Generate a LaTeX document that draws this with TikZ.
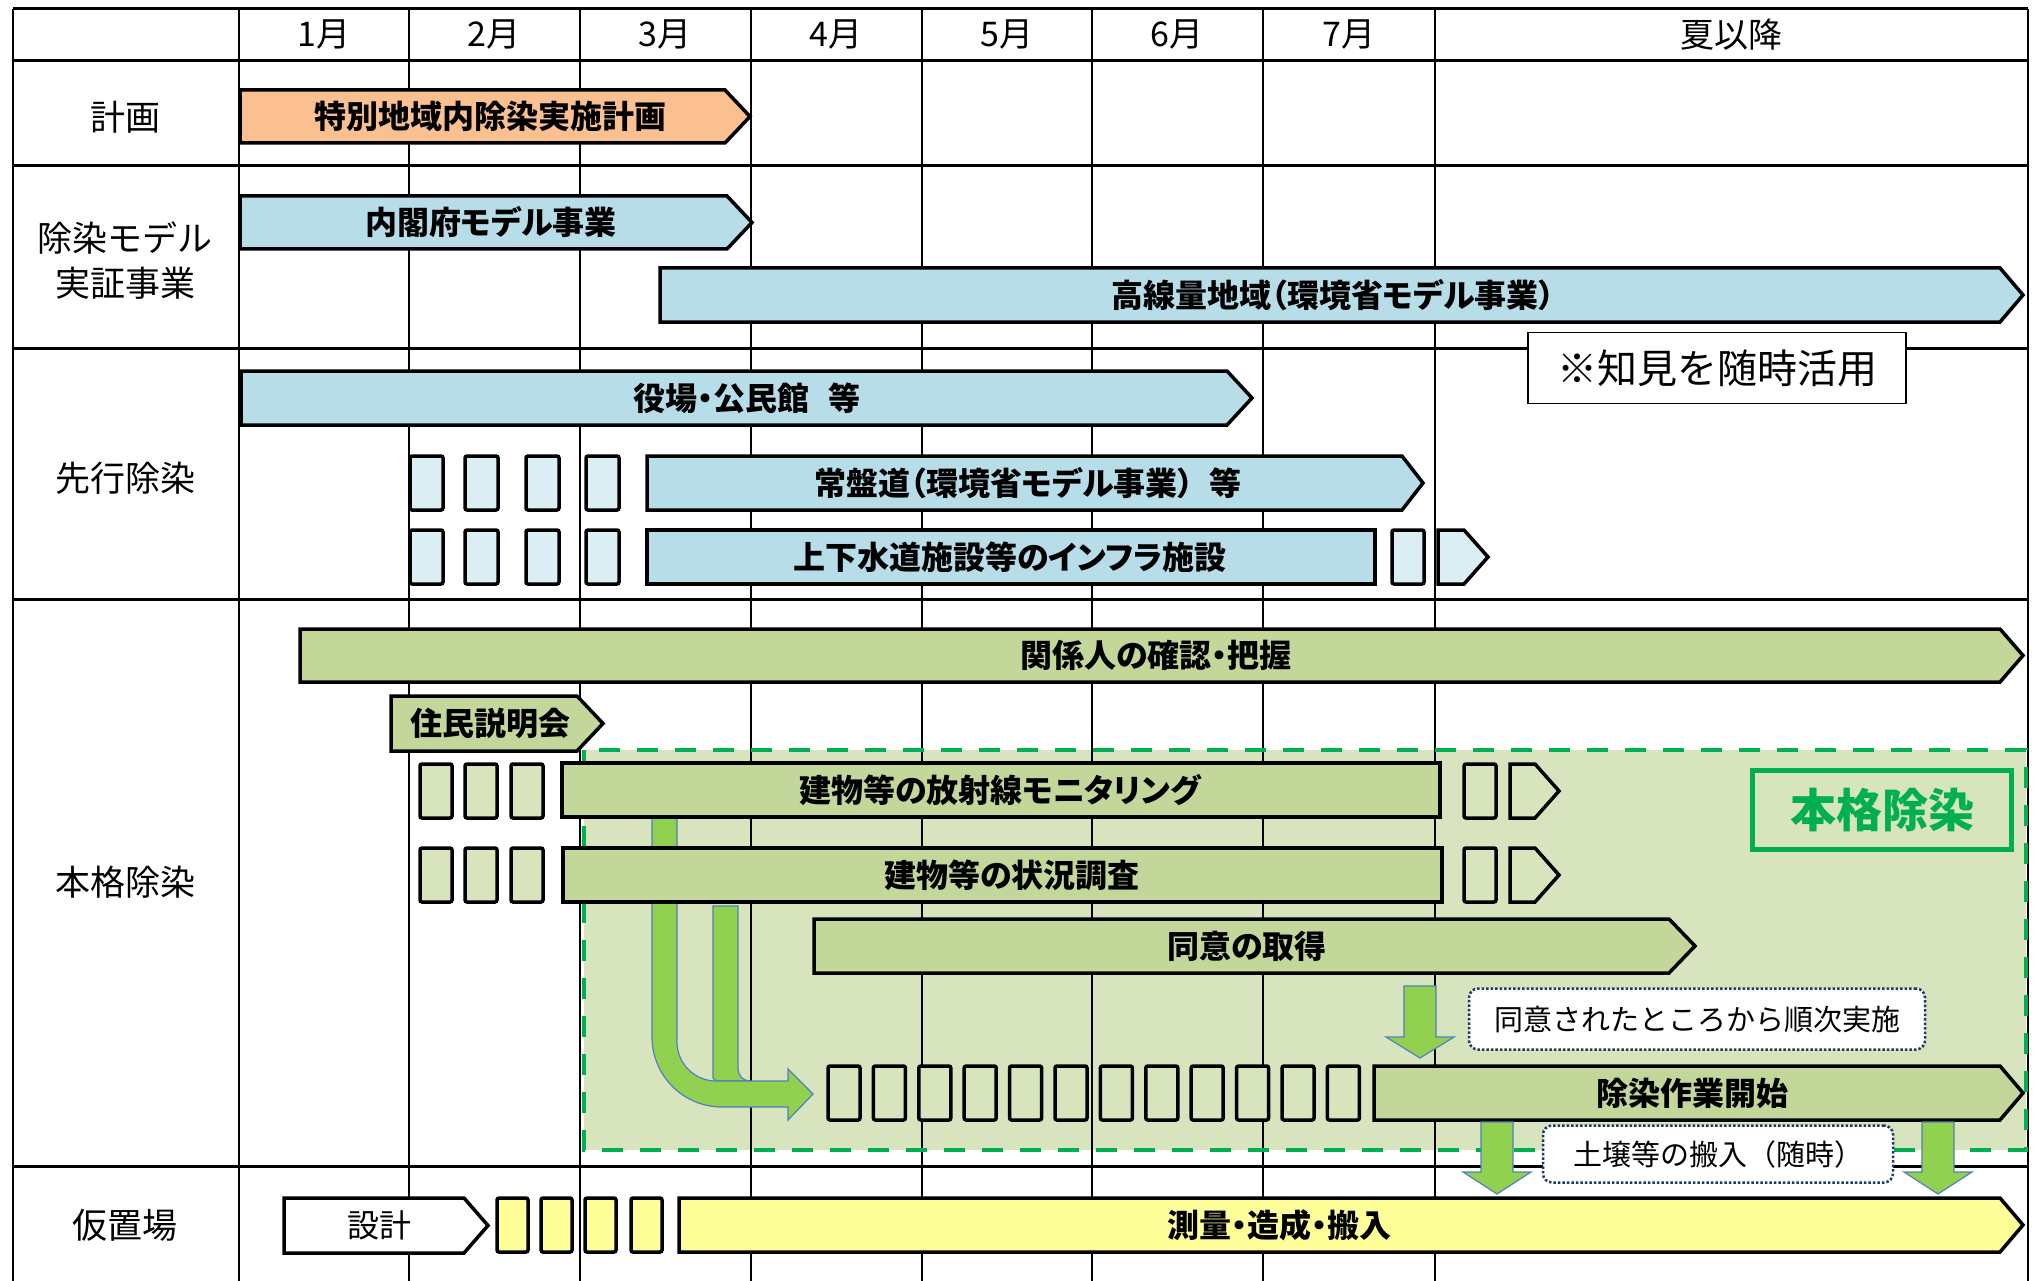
\documentclass[tikz,border=0pt]{standalone}
\usepackage{fontspec}
\setmainfont{Noto Sans CJK JP}
\newfontfamily\barfont[RawFeature=+palt]{Noto Sans CJK JP}

\definecolor{barblue}{HTML}{B7DDE8}
\definecolor{boxblue}{HTML}{DAEEF3}
\definecolor{bargreen}{HTML}{C4D79B}
\definecolor{boxgreen}{HTML}{D8E4BC}
\definecolor{barorange}{HTML}{FAC090}
\definecolor{baryellow}{HTML}{FFFF99}
\definecolor{zonegreen}{HTML}{D7E4BD}
\definecolor{dashgreen}{HTML}{00B050}
\definecolor{arrowgreen}{HTML}{92D050}
\definecolor{arrowedge}{HTML}{4F81BD}
\definecolor{dotnavy}{HTML}{1F3864}

% bar: name, x1, x2 (end of body), tip, y1, y2, fill, text x, text
\newcommand\pbar[9]{%
  \draw[barline,fill=#7] (#2,#5) -- (#3,#5) -- (#4,{(#5+#6)/2}) -- (#3,#6) -- (#2,#6) -- cycle;
  \node[bartext] (#1) at (#8,{(#5+#6)/2}) {#9};}
% down block arrow: x, top, head base, tip
\newcommand\dnarrow[4]{%
  \draw[blockarrow] (#1-16,#2) -- (#1+16,#2) -- (#1+16,#3) -- (#1+34,#3) -- (#1,#4)
    -- (#1-34,#3) -- (#1-16,#3) -- cycle;}

\begin{document}
\begin{tikzpicture}[x=1pt, y=-1pt,
        rowline/.style={line width=3pt},
        colline/.style={line width=2.5pt},
        barline/.style={line width=3.5pt},
        cellbox/.style={line width=3.5pt, rounded corners=2pt},
        bartext/.style={inner sep=0pt, font=\barfont\bfseries\fontsize{32}{32}\selectfont},
        hdr/.style={inner sep=0pt, font=\fontsize{34}{34}\selectfont},
        rowlabel/.style={inner sep=0pt, align=center, font=\fontsize{35}{45}\selectfont},
        notebox/.style={draw=dotnavy, fill=white, line width=2.5pt, dotted, rounded corners=9pt,
            inner sep=0pt, font=\fontsize{29}{29}\selectfont},
        blockarrow/.style={fill=arrowgreen, draw=arrowedge, line width=1.2pt}]

        \useasboundingbox (0,0) rectangle (2036,1281);

        % zone of full decontamination
        \fill[zonegreen] (584,750) rectangle (2026,1150);

        % table
        \foreach \y in {9,61,166,348,599,1166}
            \draw[rowline] (13,\y) -- (2028,\y);
        \foreach \x in {13,239,409,580,751,922,1092,1263,1435,2028}
            \draw[colline] (\x,9) -- (\x,1281);

        \draw[dashgreen, line width=4pt, dash pattern=on 21pt off 17pt] (584,750) rectangle (2026,1150);

        % header
        \foreach \x/\m in {324/1,494/2,665/3,836/4,1007/5,1177/6,1349/7}
            \node[hdr] (m\m) at (\x,35) {\m 月};
        \node[hdr] (summer) at (1731,35) {夏以降};

        % row labels
        \node[rowlabel] (lblplan) at (125,117) {計画};
        \node[rowlabel] (lblmodel) at (125,261) {除染モデル\\実証事業};
        \node[rowlabel] (lblpre) at (125,478) {先行除染};
        \node[rowlabel] (lblmain) at (125,882) {本格除染};
        \node[rowlabel] (lbltemp) at (125,1225) {仮置場};

        % bent arrows
        \draw[blockarrow] (713,906) -- (738,906) -- (738,1069) arc[start angle=180, end angle=90, radius=12]
            -- (716,1081) -- (713,1078) -- cycle;
        \draw[blockarrow] (652,817) -- (652,1037) arc[start angle=180, end angle=90, radius=70]
            -- (788,1107) -- (788,1120) -- (813,1094) -- (788,1069) -- (788,1081) -- (716,1081)
            arc[start angle=90, end angle=180, radius=39] -- (677,817) -- cycle;

        % plan and model projects
        \pbar{plan}{240}{725}{750}{90}{143}{barorange}{490}{特別地域内除染実施計画}
        \pbar{cao}{240}{727}{752}{196}{249}{barblue}{491}{内閣府モデル事業}
        \pbar{highdose}{660}{2000}{2023}{268}{322}{barblue}{1333}{高線量地域（環境省モデル事業）}
        \node[draw, fill=white, line width=1.5pt, minimum width=378pt, minimum height=71pt,
            inner sep=0pt, font=\fontsize{40}{40}\selectfont] (knowhow) at (1717,368) {※知見を随時活用};

        % advance decontamination
        \pbar{office}{241}{1227}{1252}{371}{425}{barblue}{747}{役場・公民館\hspace{0.6em}等}
        \foreach \x in {410,465,526,586}
            \foreach \y in {456,530}
                \draw[cellbox, fill=boxblue] (\x,\y) rectangle ++(33,54);
        \pbar{joban}{647}{1402}{1423}{456}{510}{barblue}{1028}{常盤道（環境省モデル事業）\hspace{0.5em}等}
        \pbar{sewer}{647}{1375}{1375}{530}{584}{barblue}{1010}{上下水道施設等のインフラ施設}
        \draw[cellbox, fill=boxblue] (1392,530) rectangle (1424,584);
        \draw[barline, fill=boxblue] (1438,530) -- (1464,530) -- (1488,557) -- (1464,584) -- (1438,584) -- cycle;

        % full decontamination
        \pbar{owners}{300}{2000}{2023}{629}{682}{bargreen}{1156}{関係人の確認・把握}
        \pbar{briefing}{391}{577}{603}{696}{751}{bargreen}{490}{住民説明会}
        \foreach \x in {420,465,511}
            \foreach \y in {764,848}
                \draw[cellbox, fill=boxgreen] (\x,\y) rectangle ++(32,54);
        \pbar{monitor}{562}{1440}{1440}{763}{817}{bargreen}{1000}{建物等の放射線モニタリング}
        \pbar{survey}{563}{1442}{1442}{848}{902}{bargreen}{1012}{建物等の状況調査}
        \foreach \y in {764,848} {
            \draw[cellbox, fill=boxgreen] (1464,\y) rectangle ++(32,54);
            \draw[barline, fill=boxgreen] (1510,\y) -- (1535,\y) -- (1559,\y+27) -- (1535,\y+54) -- (1510,\y+54) -- cycle;
        }
        \pbar{consent}{814}{1669}{1695}{919}{973}{bargreen}{1247}{同意の取得}
        \foreach \i in {0,...,11}
            \draw[cellbox, fill=boxgreen] (828+45.4*\i,1066) rectangle ++(32,54);
        \pbar{work}{1374}{2000}{2023}{1066}{1120}{bargreen}{1692}{除染作業開始}

        \node[draw=dashgreen, line width=5pt, minimum width=259pt, minimum height=79pt, inner sep=0pt,
            text=dashgreen, font=\bfseries\fontsize{46}{46}\selectfont] (mainlabel) at (1882,810) {本格除染};

        \dnarrow{1420}{986}{1037}{1058}
        \node[notebox, minimum width=456pt, minimum height=61pt] (stepnote) at (1697,1019) {同意されたところから順次実施};

        % temporary storage
        \pbar{design}{284}{464}{488}{1198}{1253}{white}{379}{\mdseries 設計}
        \foreach \x in {497,541,585,631}
            \draw[cellbox, fill=baryellow] (\x,1198) rectangle ++(31,54);
        \pbar{build}{679}{2000}{2023}{1198}{1252}{baryellow}{1279}{測量・造成・搬入}

        \dnarrow{1497}{1122}{1172}{1194}
        \dnarrow{1938}{1122}{1172}{1194}
        \node[notebox, minimum width=350pt, minimum height=57pt] (soilnote) at (1718,1154) {土壌等の搬入（随時）};
\end{tikzpicture}
\end{document}
